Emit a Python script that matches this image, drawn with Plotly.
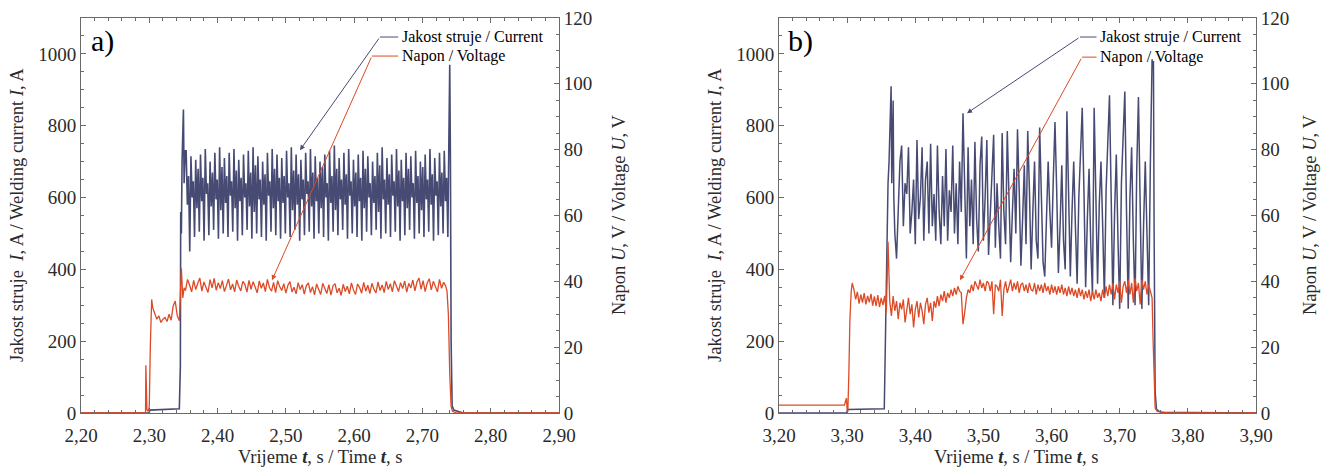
import numpy as np
import plotly.graph_objects as go

# ---------------- Panel a) data ----------------
# current (A): start-up transient
a_cur_pre_t = [2.20, 2.300, 2.3005, 2.344, 2.3455, 2.346, 2.347, 2.348, 2.349, 2.350, 2.351, 2.3525]
a_cur_pre_i = [0, 0, 8, 12, 130, 560, 500, 700, 760, 845, 640, 730]
# current: steady pulsation, sampled every 1.75 ms from 2.354 s (peak, low, high, trough per cycle)
a_cur_osc_t0 = 2.354
a_cur_osc_dt = 0.00175
a_cur_peak = [730, 715, 705, 720, 735, 700, 725, 740, 710, 725, 735, 705, 720, 730, 740, 715, 700, 725, 735, 720,
              710, 730, 740, 720, 705, 725, 735, 715, 700, 720, 730, 745, 710, 725, 735, 705, 720, 730, 715, 700,
              725, 740, 710, 720, 735, 705, 725, 715, 730, 700, 720, 735, 710, 725, 730]
a_cur_low = [580, 600, 570, 590, 610, 575, 595, 565, 585, 605, 570, 590, 600, 575, 560, 595, 580, 605, 570, 590,
             585, 600, 565, 580, 595, 610, 575, 590, 570, 600, 585, 565, 595, 580, 605, 575, 590, 570, 600, 585,
             560, 595, 580, 605, 575, 590, 570, 600, 585, 565, 595, 580, 605, 575, 590]
a_cur_high = [660, 645, 680, 655, 640, 670, 650, 685, 660, 645, 675, 655, 640, 670, 690, 650, 665, 645, 680, 655,
              660, 640, 675, 665, 650, 645, 670, 655, 685, 640, 660, 680, 650, 665, 645, 670, 655, 680, 640, 660,
              690, 650, 665, 645, 675, 655, 680, 640, 660, 685, 650, 665, 645, 670, 655]
a_cur_trough = [450, 490, 505, 480, 495, 510, 485, 500, 490, 505, 480, 495, 510, 485, 500, 490, 480, 505, 495, 485,
                500, 490, 510, 480, 495, 505, 485, 500, 490, 480, 505, 495, 510, 485, 500, 490, 480, 505, 495, 510,
                485, 500, 490, 505, 480, 495, 510, 485, 500, 490, 505, 480, 495, 500, 490]
a_cur_post_t = [2.7385, 2.7395, 2.740, 2.741, 2.742, 2.7435, 2.746, 2.755, 2.760, 2.90]
a_cur_post_i = [720, 960, 970, 700, 200, 20, 8, 3, 0, 0]

# voltage (V)
a_volt_pre_t = [2.20, 2.2945, 2.295, 2.2955, 2.2965, 2.2985, 2.300, 2.3015, 2.3035, 2.305, 2.308, 2.311, 2.314,
                2.317, 2.320, 2.323, 2.326, 2.329, 2.332, 2.335, 2.338, 2.341, 2.344, 2.346, 2.347, 2.349, 2.351]
a_volt_pre_u = [0, 0, 14.5, 6, 1, 0.5, 2, 20, 34.5, 32, 30.5, 28.5, 29.5, 27.5, 28.5, 29.0, 27.8, 30.0, 28.2, 32.5,
                34.0, 29.5, 28.0, 36, 44, 35, 38]
a_volt_osc_t0 = 2.353
a_volt_osc_dt = 0.003
a_volt_osc_u = [37.2, 40.6, 38.9, 36.8, 40.3, 37.5, 39.4, 41.0, 37.0, 39.8, 38.2, 36.6, 40.5, 38.0, 40.9, 37.3,
                39.6, 37.8, 40.2, 36.9, 38.7, 40.7, 37.4, 39.2, 36.8, 40.4, 38.5, 37.1, 40.0, 39.1, 36.7, 40.3,
                37.6, 39.9, 38.3, 36.5, 40.1, 37.9, 39.5, 36.9, 40.6, 38.1, 37.0, 39.7, 36.6, 40.2, 38.4, 37.2,
                39.3, 36.4, 38.8, 39.9, 36.8, 38.2, 36.2, 39.6, 37.5, 39.0, 36.1, 38.7, 39.5, 36.6, 38.4, 35.9,
                39.2, 37.3, 36.0, 39.4, 37.8, 36.3, 39.0, 35.8, 38.6, 39.3, 36.5, 37.9, 35.7, 39.1, 36.9, 38.5,
                36.2, 39.5, 37.4, 36.0, 39.2, 38.1, 36.4, 39.7, 37.0, 38.8, 36.3, 39.4, 37.6, 36.5, 39.8, 37.2,
                38.9, 36.6, 40.0, 37.5, 39.3, 36.8, 40.2, 38.3, 36.9, 39.6, 37.8, 40.1, 36.7, 39.4, 38.0, 40.4,
                37.1, 39.8, 41.0, 37.6, 40.2, 36.9, 39.5, 40.8, 37.4, 40.0, 38.2, 36.8, 40.6, 37.9, 39.7, 38.6]
a_volt_post_t = [2.736, 2.738, 2.740, 2.742, 2.744, 2.750, 2.90]
a_volt_post_u = [37.0, 30, 12, 2, 0.5, 0, 0]

# ---------------- Panel b) data ----------------
b_cur_pre_t = [3.20, 3.2995, 3.300, 3.301, 3.3545, 3.3555, 3.357, 3.3585, 3.360, 3.3615, 3.363, 3.3645, 3.3655,
               3.3665, 3.3675, 3.3685, 3.370]
b_cur_pre_i = [0, 0, 5, 10, 12, 150, 280, 550, 640, 700, 820, 910, 640, 860, 870, 600, 500]
b_cur_osc_t0 = 3.3725
b_cur_osc_dt = 0.0025
b_cur_osc_i = [430, 560, 700, 745, 520, 640, 610, 740, 500, 560,
               650, 470, 760, 540, 600, 740, 480, 650, 700, 500,
               750, 520, 610, 480, 745, 560, 470, 660, 520, 735,
               480, 620, 560, 745, 500, 640, 470, 700, 560, 835,
               600, 430, 740, 520, 650, 470, 755, 540, 450, 690,
               770, 480, 600, 760, 440, 560, 700, 775, 460, 640,
               520, 430, 780, 560, 470, 785, 600, 420, 560, 680,
               500, 790, 620, 410, 540, 690, 470, 785, 620, 400,
               560, 700, 480, 430, 795, 640, 420, 380, 580, 700,
               560, 460, 650, 810, 620, 390, 520, 690, 480, 400,
               840, 650, 380, 560, 700, 520, 360, 600, 720, 850,
               620, 350, 540, 680, 470, 330, 850, 640, 360, 580,
               700, 520, 320, 620, 760, 885, 600, 300, 560, 720,
               480, 290, 640, 780, 895, 560, 290, 600, 740, 480,
               300, 680, 880, 580, 290, 520, 700, 500, 300]
b_cur_post_t = [3.745, 3.7465, 3.7475, 3.7485, 3.7495, 3.7505, 3.752, 3.754, 3.760, 3.90]
b_cur_post_i = [700, 900, 985, 960, 980, 500, 60, 10, 2, 0]

b_volt_pre_t = [3.20, 3.296, 3.2975, 3.299, 3.300, 3.301, 3.3025, 3.304, 3.306, 3.3075]
b_volt_pre_u = [2.4, 2.4, 3.5, 4.5, 1.0, 0.3, 12, 28, 37, 39.5]
b_volt_osc_t0 = 3.310
b_volt_osc_dt = 0.0025
b_volt_osc_u = [37.5, 34.5, 36.8, 33.2, 36.0, 33.5, 36.4, 33.0, 35.6, 33.6,
                36.2, 32.6, 35.4, 32.5, 35.8, 32.2, 35.0, 32.8, 35.6, 30.5,
                52.0,
                34.0, 29.5, 35.5, 31.0, 34.0, 28.5, 33.5, 31.5, 34.5,
                27.5, 32.0, 35.0, 30.0, 33.0, 26.0, 31.5, 34.0, 29.0, 33.5,
                31.0, 27.0, 33.0, 35.0, 30.5, 33.5, 28.0, 34.0, 32.0, 35.5,
                32.5, 36.0, 34.0, 37.0, 33.5, 36.5, 35.0, 37.5, 35.5, 38.0,
                36.0, 38.5, 37.0, 36.5, 27.0, 30.5, 35.0, 37.5, 36.5, 39.0,
                37.0, 40.0, 38.5, 37.5, 40.5, 38.0, 39.5, 37.0, 40.0, 39.5,
                37.0, 40.0, 30.0, 39.0, 38.5, 37.0, 40.5, 29.5, 37.5, 40.0,
                36.5, 39.0, 40.5, 37.0, 39.5, 37.5, 40.0, 36.5, 39.0, 39.5,
                37.0, 39.0, 36.5, 39.5, 37.5, 37.0, 39.5, 36.0, 39.0, 37.0,
                39.0, 36.5, 39.5, 37.0, 38.5, 36.0, 39.0, 36.5, 38.5, 36.0,
                38.5, 36.5, 39.0, 36.0, 38.0, 35.5, 38.5, 36.0, 38.0, 35.5,
                37.5, 35.0, 38.0, 35.5, 37.5, 34.5, 37.0, 35.0, 37.5, 34.0,
                37.0, 34.5, 37.5, 35.0, 36.5, 34.0, 37.5, 35.0, 38.5, 35.5,
                39.0, 36.0, 39.5, 34.5, 39.0, 36.5, 40.0, 33.5, 38.5, 40.0,
                36.5, 40.5, 36.0, 39.5, 33.5, 41.0, 37.0, 39.5, 33.0, 40.5,
                37.5, 40.0, 36.0, 39.0, 37.0]
b_volt_post_t = [3.7475, 3.749, 3.7505, 3.752, 3.755, 3.770, 3.90]
b_volt_post_u = [35, 22, 8, 1.5, 0.5, 0, 0]

# axis ranges / ticks
a_xrange = [2.20, 2.90]
b_xrange = [3.20, 3.90]
cur_range = [0, 1100]
volt_range = [0, 120]
cur_ticks = [0, 200, 400, 600, 800, 1000]
volt_ticks = [0, 20, 40, 60, 80, 100, 120]
a_xticks = [2.20, 2.30, 2.40, 2.50, 2.60, 2.70, 2.80, 2.90]
a_xlabels = ["2,20", "2,30", "2,40", "2,50", "2,60", "2,70", "2,80", "2,90"]
b_xticks = [3.20, 3.30, 3.40, 3.50, 3.60, 3.70, 3.80, 3.90]
b_xlabels = ["3,20", "3,30", "3,40", "3,50", "3,60", "3,70", "3,80", "3,90"]


def grid(t0, dt, n):
    return list(t0 + dt * np.arange(n))


# assemble series
a_osc_vals = []
for p, lo, hi, tr in zip(a_cur_peak, a_cur_low, a_cur_high, a_cur_trough):
    a_osc_vals += [p, lo, hi, tr]
a_cur_t = a_cur_pre_t + grid(a_cur_osc_t0, a_cur_osc_dt, len(a_osc_vals)) + a_cur_post_t
a_cur_i = a_cur_pre_i + a_osc_vals + a_cur_post_i
a_volt_t = a_volt_pre_t + grid(a_volt_osc_t0, a_volt_osc_dt, len(a_volt_osc_u)) + a_volt_post_t
a_volt_u = a_volt_pre_u + a_volt_osc_u + a_volt_post_u

b_cur_t = b_cur_pre_t + grid(b_cur_osc_t0, b_cur_osc_dt, len(b_cur_osc_i)) + b_cur_post_t
b_cur_i = b_cur_pre_i + b_cur_osc_i + b_cur_post_i
b_volt_t = b_volt_pre_t + grid(b_volt_osc_t0, b_volt_osc_dt, len(b_volt_osc_u)) + b_volt_post_t
b_volt_u = b_volt_pre_u + b_volt_osc_u + b_volt_post_u

CUR_COL = "#474b73"
VOLT_COL = "#dc4a26"
AX_COL = "#6a6a6a"
TXT_COL = "#2a2a2a"
SERIF = "Liberation Serif"

W, H = 1332, 469


def fx(screen_x):
    return screen_x / W


def fy(screen_y):
    return (H - screen_y) / H


dom_a = [fx(81), fx(559)]
dom_b = [fx(779), fx(1256)]
ydom = [fy(413), fy(18)]

fig = go.Figure()
fig.add_trace(go.Scatter(x=a_cur_t, y=a_cur_i, mode="lines", line=dict(color=CUR_COL, width=1.6),
                         xaxis="x", yaxis="y", showlegend=False))
fig.add_trace(go.Scatter(x=a_volt_t, y=a_volt_u, mode="lines", line=dict(color=VOLT_COL, width=1.3),
                         xaxis="x", yaxis="y2", showlegend=False))
fig.add_trace(go.Scatter(x=b_cur_t, y=b_cur_i, mode="lines", line=dict(color=CUR_COL, width=1.5),
                         xaxis="x2", yaxis="y3", showlegend=False))
fig.add_trace(go.Scatter(x=b_volt_t, y=b_volt_u, mode="lines", line=dict(color=VOLT_COL, width=1.3),
                         xaxis="x2", yaxis="y4", showlegend=False))

tickfont = dict(family=SERIF, size=19, color=TXT_COL)


def xax(dom, rng, tv, tt, anchor):
    return dict(domain=dom, range=rng, anchor=anchor, showline=True, linecolor=AX_COL, linewidth=1,
                mirror="ticks", ticks="inside", ticklen=5, tickcolor=AX_COL, tickvals=tv, ticktext=tt,
                minor=dict(ticks="inside", ticklen=3, tickcolor=AX_COL, dtick=0.02, tick0=rng[0]),
                showgrid=False, zeroline=False, tickfont=tickfont, automargin=False, ticklabelstandoff=5,
                ticklabeloverflow="allow")


def yax(anchor, rng, tv, minor_dt, side="left", overlay=None):
    d = dict(domain=ydom, range=rng, anchor=anchor, side=side, showline=True, linecolor=AX_COL, linewidth=1,
             ticks="inside", ticklen=5, tickcolor=AX_COL, tickvals=tv,
             minor=dict(ticks="inside", ticklen=3, tickcolor=AX_COL, dtick=minor_dt, tick0=0),
             showgrid=False, zeroline=False, tickfont=tickfont, automargin=False, ticklabeloverflow="allow")
    if overlay:
        d["overlaying"] = overlay
    return d


fig.update_layout(
    width=W, height=H, margin=dict(l=0, r=0, t=0, b=0, pad=0, autoexpand=False),
    paper_bgcolor="white", plot_bgcolor="white", showlegend=False,
    xaxis=xax(dom_a, a_xrange, a_xticks, a_xlabels, "y"),
    yaxis=yax("x", cur_range, cur_ticks, 50),
    yaxis2=yax("x", volt_range, volt_ticks, 5, side="right", overlay="y"),
    xaxis2=xax(dom_b, b_xrange, b_xticks, b_xlabels, "y3"),
    yaxis3=yax("x2", cur_range, cur_ticks, 50),
    yaxis4=yax("x2", volt_range, volt_ticks, 5, side="right", overlay="y3"),
)

ttl = dict(family=SERIF, size=18.5, color=TXT_COL)
ann = []

for (xl, xr, xc) in [(17, 619, 320), (715, 1310, 1016)]:
    ann.append(dict(xref="paper", yref="paper", x=fx(xl), y=fy(215),
                    text="Jakost struje  <i>I</i>, A / Welding current <i>I</i>, A",
                    textangle=-90, showarrow=False, font=ttl, xanchor="center", yanchor="middle"))
    ann.append(dict(xref="paper", yref="paper", x=fx(xr), y=fy(215),
                    text="Napon <i>U</i>, V / Voltage <i>U</i>, V",
                    textangle=-90, showarrow=False, font=ttl, xanchor="center", yanchor="middle"))
    ann.append(dict(xref="paper", yref="paper", x=fx(xc), y=fy(457),
                    text="Vrijeme <b><i>t</i></b>, s / Time <b><i>t</i></b>, s",
                    showarrow=False, font=ttl, xanchor="center", yanchor="middle"))

ann.append(dict(xref="x", yref="y", x=2.211, y=1035, text="a)", showarrow=False,
                font=dict(family=SERIF, size=30, color="black"), xanchor="left", yanchor="middle"))
ann.append(dict(xref="x2", yref="y3", x=3.211, y=1035, text="b)", showarrow=False,
                font=dict(family=SERIF, size=30, color="black"), xanchor="left", yanchor="middle"))

legfont = dict(family=SERIF, size=16, color="black")
shapes = []
legend_items = [
    # xref, yref, text_x, y, elbow_x, tip_x, tip_y, color, text
    ("x", "y", 2.6665, 1047, 2.6378, 2.5207, 732, CUR_COL, "Jakost struje / Current"),
    ("x", "y", 2.6665, 994, 2.6260, 2.4797, 370, VOLT_COL, "Napon / Voltage"),
    ("x2", "y3", 3.6680, 1047, 3.6417, 3.4759, 835, CUR_COL, "Jakost struje / Current"),
    ("x2", "y3", 3.6680, 991, 3.6447, 3.4656, 370, VOLT_COL, "Napon / Voltage"),
]
for xr_, yr_, tx, ty, ex, tipx, tipy, col, txt in legend_items:
    shapes.append(dict(type="line", xref=xr_, yref=yr_, x0=ex, x1=tx - 0.002, y0=ty, y1=ty,
                       line=dict(color=col, width=1)))
    ann.append(dict(xref=xr_, yref=yr_, x=tipx, y=tipy, ax=ex, ay=ty, axref=xr_, ayref=yr_, text="",
                    showarrow=True, arrowhead=2, arrowsize=1, arrowwidth=1, arrowcolor=col))
    ann.append(dict(xref=xr_, yref=yr_, x=tx, y=ty, text=txt, showarrow=False, font=legfont,
                    xanchor="left", yanchor="middle"))

fig.update_layout(annotations=ann, shapes=shapes)
# remove the browser's default 8 px page margin so the 1332x469 figure fills the window exactly
fig.write_html("out.html", config={"displayModeBar": False},
               post_script="document.body.style.margin='0px';")
